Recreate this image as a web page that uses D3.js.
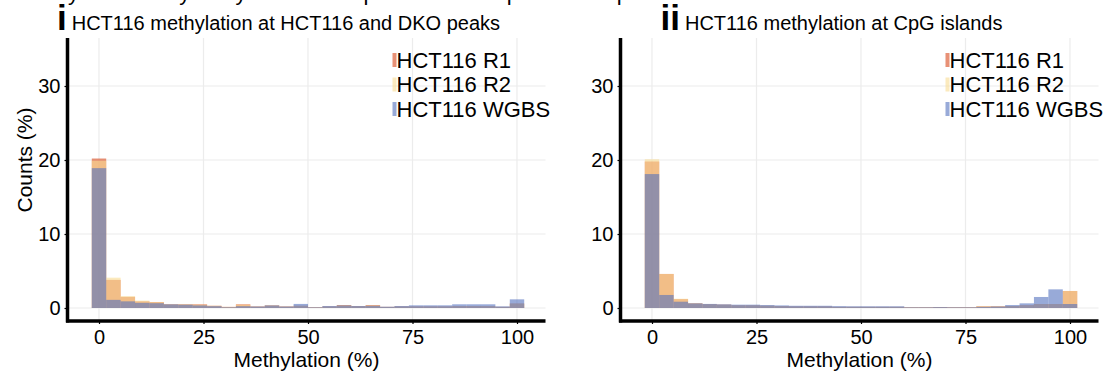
<!DOCTYPE html>
<html><head><meta charset="utf-8">
<script src="https://cdn.jsdelivr.net/npm/d3@7"></script>
<style>
body{margin:0;background:#fff}
svg{display:block}
text{font-family:"Liberation Sans",Arial,Helvetica,sans-serif;fill:#000}
</style>
</head><body>
<svg id="chart" width="1104" height="372"></svg>
<script>
// Histogram bin centres (methylation %), 30 bins spanning 0–100
const binCenters = [0, 3.45, 6.9, 10.34, 13.79, 17.24, 20.69, 24.14, 27.59, 31.03,
  34.48, 37.93, 41.38, 44.83, 48.28, 51.72, 55.17, 58.62, 62.07, 65.52,
  68.97, 72.41, 75.86, 79.31, 82.76, 86.21, 89.66, 93.1, 96.55, 100];
const binWidth = 100 / 29;

// Panel i: methylation at HCT116 and DKO peaks (counts, %)
const peaksR1 = [20.2, 3.8, 1.5, 0.9, 0.8, 0.5, 0.5, 0.5, 0.3, 0.15, 0.5, 0.2, 0.35, 0.2, 0.3,
  0.1, 0.2, 0.4, 0.25, 0.4, 0.15, 0.2, 0.2, 0.2, 0.2, 0.25, 0.25, 0.25, 0.15, 0.6];
const peaksR2 = [19.9, 4.1, 1.6, 1.0, 0.8, 0.5, 0.5, 0.45, 0.3, 0.15, 0.45, 0.2, 0.35, 0.2, 0.3,
  0.1, 0.2, 0.35, 0.25, 0.35, 0.15, 0.2, 0.2, 0.2, 0.2, 0.25, 0.25, 0.25, 0.15, 0.6];
const peaksWGBS = [18.9, 1.1, 0.9, 0.7, 0.65, 0.5, 0.45, 0.35, 0.25, 0.1, 0.25, 0.2, 0.35, 0.2, 0.55,
  0.1, 0.27, 0.35, 0.27, 0.3, 0.17, 0.27, 0.36, 0.36, 0.36, 0.5, 0.5, 0.5, 0.22, 1.17];

// Panel ii: methylation at CpG islands (counts, %)
const cgiR1 = [19.8, 4.6, 1.2, 0.63, 0.5, 0.45, 0.35, 0.35, 0.3, 0.25, 0.2, 0.2, 0.2, 0.15, 0.15,
  0.15, 0.15, 0.15, 0.1, 0.1, 0.13, 0.1, 0.1, 0.23, 0.23, 0.27, 0.37, 0.54, 0.54, 2.3];
const cgiR2 = [20.1, 4.6, 1.25, 0.63, 0.5, 0.45, 0.35, 0.35, 0.3, 0.25, 0.2, 0.2, 0.2, 0.15, 0.15,
  0.15, 0.15, 0.15, 0.1, 0.1, 0.13, 0.1, 0.1, 0.23, 0.23, 0.27, 0.37, 0.54, 0.54, 2.3];
const cgiWGBS = [18.1, 1.76, 0.85, 0.63, 0.55, 0.5, 0.45, 0.45, 0.4, 0.35, 0.3, 0.3, 0.3, 0.25, 0.23,
  0.23, 0.23, 0.23, 0.1, 0.1, 0.13, 0.1, 0.1, 0.15, 0.2, 0.4, 0.63, 1.49, 2.52, 0.54];

const seriesNames = ["HCT116 R1", "HCT116 R2", "HCT116 WGBS"];
const seriesColors = ["#D8481B", "#F8DC93", "#5371BE"];
const xTicks = [0, 25, 50, 75, 100];
const yTicks = [0, 10, 20, 30];

const panels = [
  {num: "i", title: "HCT116 methylation at HCT116 and DKO peaks", series: [peaksR1, peaksR2, peaksWGBS], left: 67.5, showYTitle: true},
  {num: "ii", title: "HCT116 methylation at CpG islands", series: [cgiR1, cgiR2, cgiWGBS], left: 620.5, showYTitle: false}
];

const svg = d3.select("#chart");

// caption line running off the top edge
svg.append("text").attr("x", 2).attr("y", 0).style("font-size", "22px")
  .text("c   Methylation analysis by HCT116 at peak sets and promoter CpG islands");

const plotTop = 38, plotBottom = 321, plotW = 478;

panels.forEach(p => {
  const g = svg.append("g");
  const x = d3.scaleLinear().domain([0, 100]).range([p.left + 31.5, p.left + 31.5 + 418]);
  const y = d3.scaleLinear().domain([0, 30]).range([308, 86]);
  const right = p.left + plotW;

  // grid
  g.selectAll(".gx").data(xTicks).join("line")
    .attr("x1", d => x(d)).attr("x2", d => x(d)).attr("y1", plotTop).attr("y2", plotBottom)
    .attr("stroke", "#ECECEC").attr("stroke-width", 1.2);
  g.selectAll(".gy").data(yTicks).join("line")
    .attr("x1", p.left).attr("x2", right).attr("y1", d => y(d)).attr("y2", d => y(d))
    .attr("stroke", "#ECECEC").attr("stroke-width", 1.2);

  // overlapping histograms
  p.series.forEach((vals, si) => {
    g.append("g").selectAll("rect").data(vals).join("rect")
      .attr("x", (d, i) => x(binCenters[i] - binWidth / 2))
      .attr("width", x(binWidth) - x(0))
      .attr("y", d => y(d))
      .attr("height", d => y(0) - y(d))
      .attr("fill", seriesColors[si])
      .attr("fill-opacity", 0.6);
  });

  // axes
  const xAxis = d3.axisBottom(x).tickValues(xTicks).tickSize(3).tickPadding(6);
  const gx = g.append("g").attr("transform", `translate(0,${plotBottom})`).call(xAxis);
  gx.select(".domain").remove();
  gx.selectAll("text").style("font-size", "20px").style("font-family", "Liberation Sans, Arial, sans-serif").attr("fill", "#000");
  gx.selectAll("line").attr("stroke", "#000").attr("stroke-width", 1.2);

  const yAxis = d3.axisLeft(y).tickValues(yTicks).tickSize(3).tickPadding(4);
  const gy = g.append("g").attr("transform", `translate(${p.left},0)`).call(yAxis);
  gy.select(".domain").remove();
  gy.selectAll("text").style("font-size", "20px").style("font-family", "Liberation Sans, Arial, sans-serif").attr("fill", "#000");
  gy.selectAll("line").attr("stroke", "#000").attr("stroke-width", 1.2);

  g.append("line").attr("x1", p.left).attr("x2", p.left).attr("y1", plotTop).attr("y2", plotBottom + 1.5)
    .attr("stroke", "#000").attr("stroke-width", 3.5);
  g.append("line").attr("x1", p.left - 1.5).attr("x2", right).attr("y1", plotBottom).attr("y2", plotBottom)
    .attr("stroke", "#000").attr("stroke-width", 3.5);

  g.append("text").attr("x", (p.left + right) / 2).attr("y", 367).attr("text-anchor", "middle")
    .style("font-size", "21px").text("Methylation (%)");
  if (p.showYTitle) {
    g.append("text").attr("transform", `translate(32,160) rotate(-90)`).attr("text-anchor", "middle")
      .style("font-size", "21px").text("Counts (%)");
  }

  // title, centred over the panel
  const t = g.append("text").attr("x", (p.left + right) / 2 - 28).attr("y", 30).attr("text-anchor", "middle");
  t.append("tspan").style("font-size", "35px").style("font-weight", "bold").text(p.num);
  t.append("tspan").attr("dx", 5).style("font-size", "20px").text(p.title);

  // legend
  const lx = right - 153;
  const lg = g.append("g");
  seriesNames.forEach((nm, i) => {
    const cy = 60 + i * 24.5;
    lg.append("rect").attr("x", lx).attr("y", cy - 7).attr("width", 4).attr("height", 14)
      .attr("fill", seriesColors[i]).attr("fill-opacity", 0.6);
    lg.append("text").attr("x", lx + 4).attr("y", cy + 7.5).style("font-size", "22px").text(nm);
  });
});
</script>
</body></html>
